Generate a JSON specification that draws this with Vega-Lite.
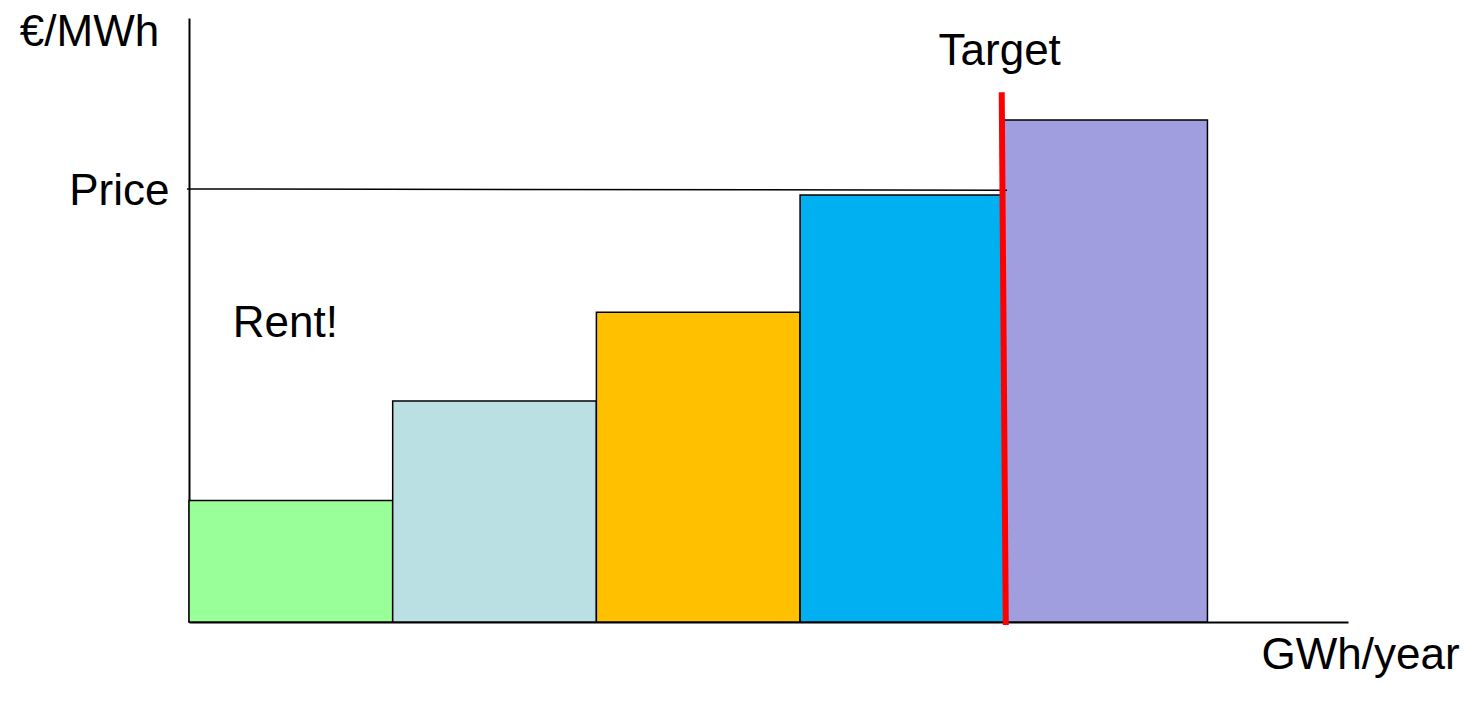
{
  "$schema": "https://vega.github.io/schema/vega-lite/v6.json",
  "autosize": {"type": "none"},
  "padding": {"left": 189, "top": 18, "right": 125, "bottom": 83},
  "width": 1159,
  "height": 604,
  "background": "white",
  "config": {
    "view": {"stroke": null},
    "font": "Liberation Sans",
    "text": {"font": "Liberation Sans", "fontSize": 44, "color": "black"}
  },
  "datasets": {
    "supply": [
      {"source": "A", "from": 0, "to": 1, "cost": 20.1},
      {"source": "B", "from": 1, "to": 2, "cost": 36.6},
      {"source": "C", "from": 2, "to": 3, "cost": 51.3},
      {"source": "D", "from": 3, "to": 4, "cost": 70.7},
      {"source": "E", "from": 4, "to": 5, "cost": 83.1}
    ],
    "price": [
      {"from": -0.01, "to": 4.016, "start": 71.7, "end": 71.5}
    ],
    "target": [
      {"bottomX": 4.01, "topX": 3.99, "bottom": -0.5, "top": 87.7}
    ],
    "notes": [
      {"label": "Target", "at": 3.98, "level": 92.2},
      {"label": "Rent!", "at": 0.473, "level": 47.2}
    ]
  },
  "layer": [
    {
      "data": {"name": "supply"},
      "mark": {"type": "rect", "stroke": "black", "strokeWidth": 1.5},
      "encoding": {
        "x": {
          "field": "from",
          "type": "quantitative",
          "scale": {"domain": [0, 5.69], "nice": false, "zero": false},
          "axis": {
            "domainColor": "black",
            "domainWidth": 2,
            "ticks": false,
            "labels": false,
            "grid": false,
            "title": "GWh/year",
            "titleFont": "Liberation Sans",
            "titleFontSize": 44,
            "titleFontWeight": "normal",
            "titleColor": "black",
            "titleAlign": "center",
            "titleBaseline": "alphabetic",
            "titleX": 1171,
            "titleY": 46
          }
        },
        "x2": {"field": "to"},
        "y": {
          "field": "cost",
          "type": "quantitative",
          "scale": {"domain": [0, 100], "nice": false},
          "axis": {
            "domainColor": "black",
            "domainWidth": 2,
            "ticks": false,
            "grid": false,
            "values": [71.7],
            "labelExpr": "'Price'",
            "labelFont": "Liberation Sans",
            "labelFontSize": 44,
            "labelColor": "black",
            "labelPadding": 20,
            "labelBaseline": "middle",
            "labelOffset": 3,
            "title": "€/MWh",
            "titleFont": "Liberation Sans",
            "titleFontSize": 44,
            "titleFontWeight": "normal",
            "titleColor": "black",
            "titleAngle": 0,
            "titleAlign": "center",
            "titleBaseline": "alphabetic",
            "titleX": -100,
            "titleY": 27
          }
        },
        "y2": {"datum": 0},
        "color": {
          "field": "source",
          "type": "nominal",
          "scale": {
            "domain": ["A", "B", "C", "D", "E"],
            "range": ["#99FF99", "#BBE0E3", "#FFC000", "#00B0F0", "#A09EDE"]
          },
          "legend": null
        }
      }
    },
    {
      "data": {"name": "price"},
      "mark": {"type": "rule", "color": "black", "strokeWidth": 1.5},
      "encoding": {
        "x": {"field": "from", "type": "quantitative"},
        "x2": {"field": "to"},
        "y": {"field": "start", "type": "quantitative"},
        "y2": {"field": "end"}
      }
    },
    {
      "data": {"name": "target"},
      "mark": {"type": "rule", "color": "#FF0000", "strokeWidth": 6},
      "encoding": {
        "x": {"field": "bottomX", "type": "quantitative"},
        "x2": {"field": "topX"},
        "y": {"field": "bottom", "type": "quantitative"},
        "y2": {"field": "top"}
      }
    },
    {
      "data": {"name": "notes"},
      "mark": {"type": "text", "align": "center", "baseline": "alphabetic", "clip": false},
      "encoding": {
        "x": {"field": "at", "type": "quantitative"},
        "y": {"field": "level", "type": "quantitative"},
        "text": {"field": "label"}
      }
    }
  ]
}
